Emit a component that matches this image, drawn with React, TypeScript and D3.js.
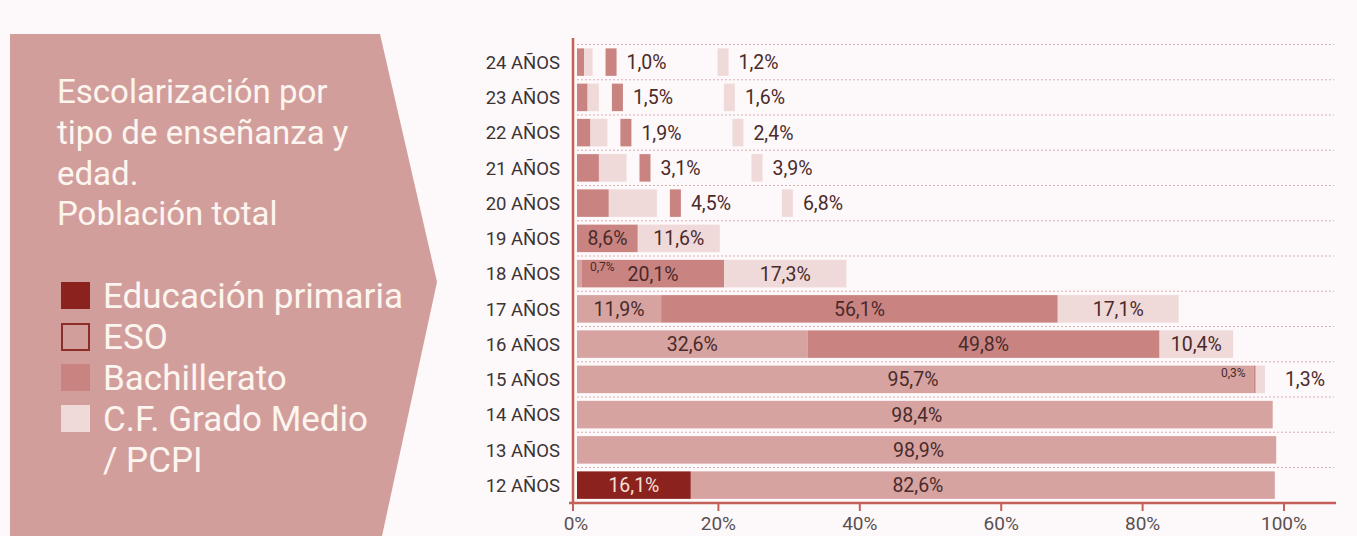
import React from "react";
import * as d3 from "d3";

const ages = ["24 AÑOS","23 AÑOS","22 AÑOS","21 AÑOS","20 AÑOS","19 AÑOS","18 AÑOS","17 AÑOS","16 AÑOS","15 AÑOS","14 AÑOS","13 AÑOS","12 AÑOS"];
const primaria = [0,0,0,0,0,0,0,0,0,0,0,0,16.1];
const eso = [0,0,0,0,0,0,0.7,11.9,32.6,95.7,98.4,98.9,82.6];
const bachillerato = [1.0,1.5,1.9,3.1,4.5,8.6,20.1,56.1,49.8,0.3,0,0,0];
const cfgm = [1.2,1.6,2.4,3.9,6.8,11.6,17.3,17.1,10.4,1.3,0,0,0];
const xTicks = [0,20,40,60,80,100];
const titleLines = ["Escolarización por","tipo de enseñanza y","edad.","Población total"];
const legendLabels = [["Educación primaria"],["ESO"],["Bachillerato"],["C.F. Grado Medio","/ PCPI"]];

const COLORS = ["#8c221d", "#d6a3a1", "#c98482", "#efd9d9"];
const PANEL = "#d29e9c";
const BG = "#fdf8f9";
const AXIS = "#c45f5a";
const GRID = "#d9b0b4";
const TXT = "#4a2a2a";
const FONT = "Roboto, 'Liberation Sans', sans-serif";

const fmt = (v: number) => v.toFixed(1).replace(".", ",") + "%";

export default function App() {
  const W = 1357, H = 536;
  const x = d3.scaleLinear().domain([0, 100]).range([577, 1284]);
  const y = d3.scaleBand<string>().domain(ages).range([44.5, 502.75]).paddingInner(0.22).paddingOuter(0.11);
  const step = y.step();
  const bw = y.bandwidth();
  const series = [primaria, eso, bachillerato, cfgm];
  const LFS = 19.5;

  const rows = ages.map((age, i) => {
    let acc = 0;
    const segs = series.map((s, k) => {
      const v = s[i];
      const seg = { k, v, x0: acc, x1: acc + v };
      acc += v;
      return seg;
    }).filter(s => s.v > 0);
    return { age, i, segs, total: acc };
  });

  const bars: JSX.Element[] = [];
  const labels: JSX.Element[] = [];
  rows.forEach(r => {
    const top = y(r.age)!;
    const cy = top + bw / 2;
    r.segs.forEach(s => {
      bars.push(<rect key={`b${r.i}-${s.k}`} x={x(s.x0)} y={top} width={x(s.x1) - x(s.x0)} height={bw} fill={COLORS[s.k]} />);
    });
    if (r.total < 15) {
      const xe = x(r.total);
      r.segs.forEach((s, j) => {
        const bx = j === 0 ? xe + 13 : xe + 125;
        labels.push(<rect key={`k${r.i}-${s.k}`} x={bx} y={top} width={11} height={bw} fill={COLORS[s.k]} />);
        labels.push(<text key={`kt${r.i}-${s.k}`} x={bx + 21} y={cy} dy="0.36em" fontSize={LFS} fill={TXT}>{fmt(s.v)}</text>);
      });
    } else {
      r.segs.forEach((s, j) => {
        if (s.v < 1) {
          const first = j === 0;
          labels.push(<text key={`s${r.i}-${s.k}`} x={first ? x(s.x1) + 8 : x(s.x0) - 8} y={top + 11} textAnchor={first ? "start" : "end"} fontSize={12} fill={TXT}>{fmt(s.v)}</text>);
        } else if (s.v < 3) {
          labels.push(<text key={`o${r.i}-${s.k}`} x={x(r.total) + 20} y={cy} dy="0.36em" fontSize={LFS} fill={TXT}>{fmt(s.v)}</text>);
        } else {
          const cx = s.v > 80 ? (x(0) + x(r.total)) / 2 - 8 : (x(s.x0) + x(s.x1)) / 2;
          labels.push(<text key={`l${r.i}-${s.k}`} x={cx} y={cy} dy="0.36em" textAnchor="middle" fontSize={LFS} fill={s.k === 0 ? "#f6e0da" : TXT}>{fmt(s.v)}</text>);
        }
      });
    }
  });

  const panelPts = [[10, 34], [380, 34], [437, 282], [382, 536], [10, 536]].map(p => p.join(",")).join(" ");

  let legendY = 308;
  const legend: JSX.Element[] = [];
  legendLabels.forEach((lines, k) => {
    const by = legendY;
    legend.push(
      <rect key={`lg${k}`} x={k === 1 ? 62 : 61} y={by - 26 + (k === 1 ? 1 : 0)} width={k === 1 ? 27 : 29} height={k === 1 ? 26 : 27}
        fill={k === 1 ? PANEL : COLORS[k]} stroke={k === 1 ? "#8c2d29" : "none"} strokeWidth={k === 1 ? 2 : 0} />
    );
    lines.forEach((t, li) => {
      legend.push(<text key={`lt${k}-${li}`} x={103} y={by + li * 41} fontSize={35} fill="#fdf5ef">{t}</text>);
    });
    legendY += 41 * lines.length;
  });

  return (
    <div style={{ position: "fixed", left: 0, top: 0 }}>
      <svg width={W} height={H} style={{ display: "block", fontFamily: FONT }}>
        <rect x={0} y={0} width={W} height={H} fill={BG} />
        <polygon points={panelPts} fill={PANEL} />
        {titleLines.map((t, i) => (
          <text key={`t${i}`} x={57} y={103 + i * 40.8} fontSize={33} fill="#fdf5ef">{t}</text>
        ))}
        {legend}
        {ages.map(a => (
          <line key={`g${a}`} x1={577} x2={1334} y1={y(a)! - step * 0.11} y2={y(a)! - step * 0.11} stroke={GRID} strokeWidth={1} strokeDasharray="2,2" />
        ))}
        {bars}
        {labels}
        {ages.map(a => (
          <text key={`y${a}`} x={560} y={y(a)! + bw / 2} dy="0.36em" textAnchor="end" fontSize={18.5} fill="#3c3434">{a}</text>
        ))}
        <line x1={573} x2={573} y1={38} y2={504} stroke={AXIS} strokeWidth={2.5} />
        <line x1={569} x2={1336} y1={503} y2={503} stroke={AXIS} strokeWidth={2.5} />
        {xTicks.map(t => (
          <g key={`x${t}`}>
            <line x1={t === 0 ? 573 : x(t)} x2={t === 0 ? 573 : x(t)} y1={503} y2={511} stroke={AXIS} strokeWidth={2} />
            <text x={t === 0 ? 576 : x(t)} y={530} textAnchor="middle" fontSize={19} fill="#5a5050">{t + "%"}</text>
          </g>
        ))}
      </svg>
    </div>
  );
}
